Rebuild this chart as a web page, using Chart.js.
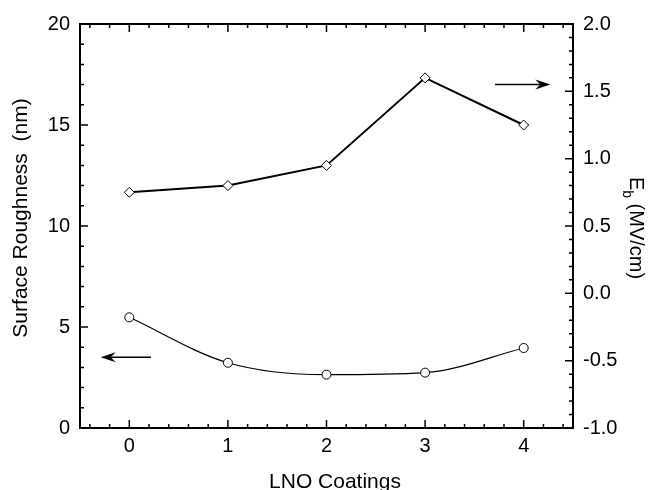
<!DOCTYPE html>
<html>
<head>
<meta charset="utf-8">
<script src="https://cdn.jsdelivr.net/npm/chart.js@4.4.1/dist/chart.umd.min.js"></script>
<style>
    html, body { margin: 0; padding: 0; background: #fff; }
    #chart { display: block; }
</style>
</head>
<body>
<canvas id="chart" width="660" height="490"></canvas>
<script>
    const coatings = [0, 1, 2, 3, 4];
    const roughness = [5.48, 3.23, 2.64, 2.74, 3.96];
    const breakdownField = [0.75, 0.80, 0.95, 1.60, 1.25];
    const xTickValues = [0, 1, 2, 3, 4];
    const leftTickValues = [0, 5, 10, 15, 20];
    const rightTickValues = [-1.0, -0.5, 0.0, 0.5, 1.0, 1.5, 2.0];
    // arrows: [xFrom, xTo, y] in data units of their own axis
    const leftArrow = [0.22, -0.29, 3.5];
    const rightArrow = [3.71, 4.27, 1.55];

    const FONT = '"Liberation Sans", Arial, sans-serif';

    function toPoints(xs, ys) {
        return xs.map((x, i) => ({ x: x, y: ys[i] }));
    }

    function drawArrow(ctx, x0, x1, y) {
        const dir = x1 > x0 ? 1 : -1;
        ctx.beginPath();
        ctx.moveTo(x0, y);
        ctx.lineTo(x1 - dir * 8, y);
        ctx.stroke();
        ctx.beginPath();
        ctx.moveTo(x1, y);
        ctx.lineTo(x1 - dir * 15, y - 5);
        ctx.lineTo(x1 - dir * 10, y);
        ctx.lineTo(x1 - dir * 15, y + 5);
        ctx.closePath();
        ctx.fill();
    }

    const framePlugin = {
        id: 'frame',
        afterDraw(chart) {
            const { ctx, chartArea: a, scales } = chart;
            const xs = scales.x, yl = scales.y, yr = scales.y1;
            ctx.save();
            ctx.strokeStyle = '#000';
            ctx.fillStyle = '#000';

            // ticks, pointing inwards
            ctx.lineWidth = 1.5;
            ctx.beginPath();
            for (let i = -2; i <= 22; i++) {
                const px = xs.getPixelForValue(i / 5);
                const len = i % 5 === 0 ? 8 : 4;
                ctx.moveTo(px, a.bottom);
                ctx.lineTo(px, a.bottom - len);
                ctx.moveTo(px, a.top);
                ctx.lineTo(px, a.top + len);
            }
            for (let i = 0; i <= 20; i++) {
                const py = yl.getPixelForValue(i);
                const len = i % 5 === 0 ? 8 : 4;
                ctx.moveTo(a.left, py);
                ctx.lineTo(a.left + len, py);
            }
            for (let i = -10; i <= 20; i++) {
                const py = yr.getPixelForValue(i / 10);
                const len = i % 5 === 0 ? 8 : 4;
                ctx.moveTo(a.right, py);
                ctx.lineTo(a.right - len, py);
            }
            ctx.stroke();

            ctx.lineWidth = 2;
            ctx.strokeRect(a.left, a.top, a.right - a.left, a.bottom - a.top);

            // arrows
            ctx.lineWidth = 1.5;
            drawArrow(ctx, xs.getPixelForValue(leftArrow[0]), xs.getPixelForValue(leftArrow[1]), yl.getPixelForValue(leftArrow[2]));
            drawArrow(ctx, xs.getPixelForValue(rightArrow[0]), xs.getPixelForValue(rightArrow[1]), yr.getPixelForValue(rightArrow[2]));

            // axis titles
            ctx.font = '21px ' + FONT;
            ctx.textAlign = 'center';
            ctx.textBaseline = 'alphabetic';
            ctx.fillText('LNO Coatings', 335, 488);

            ctx.save();
            ctx.translate(21, 218);
            ctx.rotate(-Math.PI / 2);
            ctx.textBaseline = 'middle';
            ctx.fillText('Surface Roughness  (nm)', 0, 0);
            ctx.restore();

            ctx.save();
            ctx.translate(636, 228);
            ctx.rotate(Math.PI / 2);
            ctx.textBaseline = 'middle';
            ctx.textAlign = 'left';
            const big = '20px ' + FONT, small = '14px ' + FONT;
            ctx.font = big;
            const wE = ctx.measureText('E').width;
            const wRest = ctx.measureText(' (MV/cm)').width;
            ctx.font = small;
            const wb = ctx.measureText('b').width;
            let cx = -(wE + wb + wRest) / 2;
            ctx.font = big;
            ctx.fillText('E', cx, 0);
            cx += wE;
            ctx.font = small;
            ctx.fillText('b', cx, 9);
            cx += wb;
            ctx.font = big;
            ctx.fillText(' (MV/cm)', cx, 0);
            ctx.restore();

            ctx.restore();
        }
    };

    new Chart(document.getElementById('chart'), {
        type: 'line',
        data: {
            datasets: [{
                label: 'Surface Roughness',
                data: toPoints(coatings, roughness),
                yAxisID: 'y',
                borderColor: '#000',
                borderWidth: 1.2,
                cubicInterpolationMode: 'monotone',
                pointStyle: 'circle',
                pointRadius: 4.5,
                pointBorderWidth: 1,
                pointBorderColor: '#000',
                pointBackgroundColor: '#fff'
            }, {
                label: 'Eb',
                data: toPoints(coatings, breakdownField),
                yAxisID: 'y1',
                borderColor: '#000',
                borderWidth: 2,
                tension: 0,
                pointStyle: 'rectRot',
                pointRadius: 5,
                pointBorderWidth: 1,
                pointBorderColor: '#000',
                pointBackgroundColor: '#fff'
            }]
        },
        options: {
            responsive: false,
            animation: false,
            devicePixelRatio: 1,
            layout: { padding: { top: 24, left: 0, right: 0, bottom: 0 } },
            plugins: {
                legend: { display: false },
                tooltip: { enabled: false }
            },
            scales: {
                x: {
                    type: 'linear',
                    min: -0.5,
                    max: 4.5,
                    afterBuildTicks: s => { s.ticks = xTickValues.map(v => ({ value: v })); },
                    afterFit: s => { s.height = 62; },
                    grid: { display: false, drawTicks: false },
                    border: { display: false },
                    ticks: { color: '#000', padding: 6, font: { family: FONT, size: 20 } }
                },
                y: {
                    position: 'left',
                    min: 0,
                    max: 20,
                    afterBuildTicks: s => { s.ticks = leftTickValues.map(v => ({ value: v })); },
                    afterFit: s => { s.width = 80; },
                    grid: { display: false, drawTicks: false },
                    border: { display: false },
                    ticks: { color: '#000', padding: 10, font: { family: FONT, size: 20 } }
                },
                y1: {
                    position: 'right',
                    min: -1,
                    max: 2,
                    afterBuildTicks: s => { s.ticks = rightTickValues.map(v => ({ value: v })); },
                    afterFit: s => { s.width = 87; },
                    grid: { display: false, drawTicks: false },
                    border: { display: false },
                    ticks: {
                        color: '#000',
                        padding: 10,
                        font: { family: FONT, size: 20 },
                        callback: v => Number(v).toFixed(1)
                    }
                }
            }
        },
        plugins: [framePlugin]
    });
</script>
</body>
</html>
